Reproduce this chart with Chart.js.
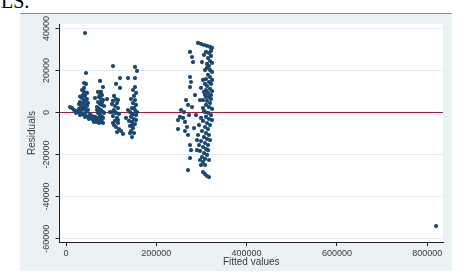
<!DOCTYPE html>
<html>
<head>
<meta charset="utf-8">
<script src="https://cdn.jsdelivr.net/npm/chart.js@4/dist/chart.umd.min.js"></script>
<style>
  html, body { margin: 0; padding: 0; background: #fff; }
  #wrap { position: relative; width: 459px; height: 272px; overflow: hidden; }
  #graphBg { position: absolute; left: 20px; top: 13px; width: 432px; height: 257px;
             background: #eaf2f3; border-top: 1px solid #8a8f91; }
  #pageText { position: absolute; left: 1px; top: -9px; font: 20px/20px "Liberation Serif", serif; color: #000; }
  canvas { position: absolute; left: 0; top: 0; }
</style>
</head>
<body>
<div id="wrap">
  <div id="graphBg"></div>
  <div id="pageText">LS.</div>
  <canvas id="resChart" width="459" height="272"></canvas>
</div>
<script>
// valores (fitted vs residuals)
const fittedVals = [
  // grupo 1
  8900, 13300, 17700, 22200, 26600, 31000, 35400, 39900, 44300, 48700, 53200, 57600, 62000, 66500, 70900, 75300, 79700, 82000,
  42100, 50900, 59800, 68700, 31000, 22200,
  35400, 39900, 37700, 42100, 35400, 39900, 44300, 31000, 37700, 44300, 33200, 39900, 46500, 28800, 35400, 42100, 48700,
  44300, 39900, 44300, 42100, 39900, 46500,
  31000, 46500, 28800, 48700, 37700, 44300, 53200, 57600, 64200, 62000, 73100, 66500,
  // grupo 2
  75300, 82000, 77500, 79700, 73100, 77500, 82000, 70900, 75300, 79700, 68700, 73100, 77500, 82000, 70900, 75300, 79700,
  73100, 77500, 84200, 64200,
  68700, 82000, 84200, 73100, 79700, 75300, 70900,
  // grupo 3
  104100, 90800, 110800, 119600, 119600, 106300, 110800, 104100, 113000, 108500, 115200, 106300, 101900, 110800, 117400,
  104100, 113000, 108500, 115200, 106300, 110800, 117400, 113000, 121800, 126300, 101900, 97500,
  115200, 108500, 115200, 104100,
  152800, 157300, 137300, 152800, 152800, 148400, 155100, 150600, 144000, 152800, 148400, 155100, 146200, 152800, 141800,
  148400, 155100, 144000, 150600, 146200, 152800, 141800, 148400, 144000, 150600, 146200, 139500, 137300, 157300, 132900,
  150600, 146200, 155100, 148400, 141800,
  // grupo 4
  292400, 299000, 305600, 312300, 318900, 323400, 321200, 316700, 321200, 314500, 318900, 323400, 316700, 312300, 318900,
  323400, 314500, 318900, 310100, 316700, 321200, 312300, 318900, 323400, 314500, 307900, 316700, 321200, 312300, 318900,
  310100, 316700, 323400, 305600, 314500, 321200, 310100, 316700, 303400, 312300, 318900, 307900, 314500, 301200, 310100,
  316700, 305600, 312300, 299000, 307900, 314500, 303400, 310100, 296800, 305600, 312300, 301200, 307900, 303400, 299000,
  303400, 307900, 312300, 316700,
  305600, 301200, 307900, 303400, 299000, 305600, 296800, 303400, 299000, 294600, 292400, 294600, 290200, 310100, 312300,
  307900, 310100, 307900,
  321200, 323400, 318900, 323400, 310100, 303400, 314500, 296800, 307900, 316700,
  274700, 279100, 281300, 274700, 276900, 274700, 270200, 279100, 254700, 261400, 252500, 263600, 268000, 263600, 270200,
  274700, 276900, 274700, 270200, 248100, 248100, 265800, 285700, 288000, 283500, 290200, 259200, 272400,
  // atipico
  819600
];
const residuals = [
  2600, 2100, 1200, 700, 200, -200, -700, -1200, -1700, -2100, -2600, -2600, -3100, -3600, -4000, -4000, -4500, -5000,
  -2100, -3100, -3600, -4500, -1200, -200,
  10700, 9800, 8300, 7900, 6900, 5900, 5900, 5000, 4500, 4000, 3100, 2600, 3100, 1700, 1200, 1700, 1200,
  13600, 14000, 18800, 37800, 11700, 9300,
  7600, 6400, 4000, 4500, 2100, 200, -700, -1700, -2100, -4500, -5000, -2600,
  15000, 12100, 9800, 8300, 7400, 6400, 5900, 5000, 4000, 3600, 2600, 1700, 1200, 200, -200, -1200, -2100,
  -2600, -3600, -200, 6900,
  1200, -2600, 3100, -200, 5000, 8300, 9800,
  22100, 6400, 13600, 11700, 16400, 7900, 6400, 5500, 4500, 3100, 2100, 1200, 200, -200, -700,
  -1700, -2600, -4000, -5000, -6000, -6900, -7900, -9300, -8800, -10200, 4000, 200,
  5900, 200, -3600, -5000,
  21700, 19800, 16400, 16400, 12100, 10700, 9300, 7900, 6400, 5900, 4500, 3600, 2100, 1200, 200,
  -700, -1200, -2100, -3100, -4500, -5500, -6400, -7400, -8800, -9800, -11700, -4000, 1200, 200, -2600,
  2100, -1200, -3600, -6000, -9800,
  33100, 32600, 32100, 31700, 31200, 30700, 29300, 28300, 26900, 25900, 24500, 23600, 22100, 21200, 20200,
  19300, 17900, 16900, 15900, 14500, 13600, 12600, 11200, 10200, 9300, 8300, 7400, 6400, 5500, 4500,
  3600, 2600, 1700, 700, -200, -1200, -2100, -3100, -4000, -5000, -6000, -6900, -7900, -8800, -9800,
  -10700, -11700, -12600, -13600, -14500, -15500, -16400, -17400, -18300, -19300, -20200, -21200, -22100, -23600, -25000,
  -28300, -29300, -30200, -30700,
  27400, 24000, 20200, 15500, 11700, 9800, 5900, 2100, -2600, -6000, -10700, -15500, -17900, 28800, 23100,
  13600, 7400, 200,
  8300, -3600, -13100, 15500, 10700, 5900, -17900, -22600, -25000, -22600,
  28800, 26400, 24000, 16900, 14500, 12100, 3600, 2600, 1200, 200, -2100, -4500, -6900, -8800, -10700,
  -15500, -17900, -21700, -27400, -3600, -7900, 5900, 8300, -1200, -7400, -13100, -2600, -1200,
  -54000
];
const xTicks = [0, 200000, 400000, 600000, 800000];
const yTicks = [-60000, -40000, -20000, 0, 20000, 40000];
const xRange = [-14400, 835000];
const yRange = [-61600, 42100];

const puntos = fittedVals.map((v, i) => ({ x: v, y: residuals[i] }));

const fuente = '"Liberation Sans", Arial, sans-serif';
const colorTexto = '#3c3c3c';

// fondo blanco, etiquetas rotadas del eje y y titulos
const stataDecor = {
  id: 'stataDecor',
  beforeDraw(chart) {
    const { ctx, chartArea: a } = chart;
    ctx.save();
    ctx.fillStyle = '#ffffff';
    ctx.fillRect(a.left, a.top, a.right - a.left, a.bottom - a.top);
    ctx.restore();
  },
  afterDraw(chart) {
    const { ctx, chartArea: a } = chart;
    const yScale = chart.scales.y;
    ctx.save();
    ctx.fillStyle = colorTexto;
    ctx.font = '9px ' + fuente;
    ctx.textAlign = 'center';
    ctx.textBaseline = 'middle';
    yTicks.forEach(v => {
      const py = yScale.getPixelForValue(v);
      ctx.save();
      ctx.translate(47, py);
      ctx.rotate(-Math.PI / 2);
      ctx.fillText(String(v), 0, 0);
      ctx.restore();
    });
    ctx.font = '10px ' + fuente;
    ctx.save();
    ctx.translate(32, (a.top + a.bottom) / 2);
    ctx.rotate(-Math.PI / 2);
    ctx.fillText('Residuals', 0, 0);
    ctx.restore();
    ctx.fillText('Fitted values', (a.left + a.right) / 2, 262);
    ctx.restore();
  }
};

function initChart() {
  const ctx = document.getElementById('resChart').getContext('2d');
  return new Chart(ctx, {
    type: 'scatter',
    data: {
      datasets: [
        {
          type: 'line',
          data: [{ x: xRange[0], y: 0 }, { x: xRange[1], y: 0 }],
          borderColor: '#a31d3d',
          borderWidth: 1.2,
          pointRadius: 0,
          order: 2
        },
        {
          data: puntos,
          backgroundColor: '#1a476f',
          borderWidth: 0,
          pointRadius: 2.1,
          pointStyle: 'circle',
          order: 1
        }
      ]
    },
    options: {
      responsive: false,
      animation: false,
      devicePixelRatio: 1,
      layout: { padding: { left: 0, right: 16, top: 24, bottom: 0 } },
      plugins: { legend: { display: false }, tooltip: { enabled: false } },
      scales: {
        x: {
          type: 'linear',
          min: xRange[0],
          max: xRange[1],
          afterBuildTicks: s => { s.ticks = xTicks.map(v => ({ value: v })); },
          afterFit: s => { s.height = 30; },
          grid: { drawOnChartArea: false, drawTicks: true, tickLength: 4, tickColor: '#222' },
          border: { color: '#222', width: 1 },
          ticks: {
            font: { family: fuente, size: 9 },
            color: colorTexto,
            padding: 2,
            maxRotation: 0,
            callback: v => String(v)
          }
        },
        y: {
          type: 'linear',
          min: yRange[0],
          max: yRange[1],
          afterBuildTicks: s => { s.ticks = yTicks.map(v => ({ value: v })); },
          afterFit: s => { s.width = 59.5; },
          grid: { color: '#e6ecee', lineWidth: 1, drawTicks: true, tickLength: 4, tickColor: '#222' },
          border: { color: '#222', width: 1 },
          ticks: { display: false }
        }
      }
    },
    plugins: [stataDecor]
  });
}

initChart();
</script>
</body>
</html>
